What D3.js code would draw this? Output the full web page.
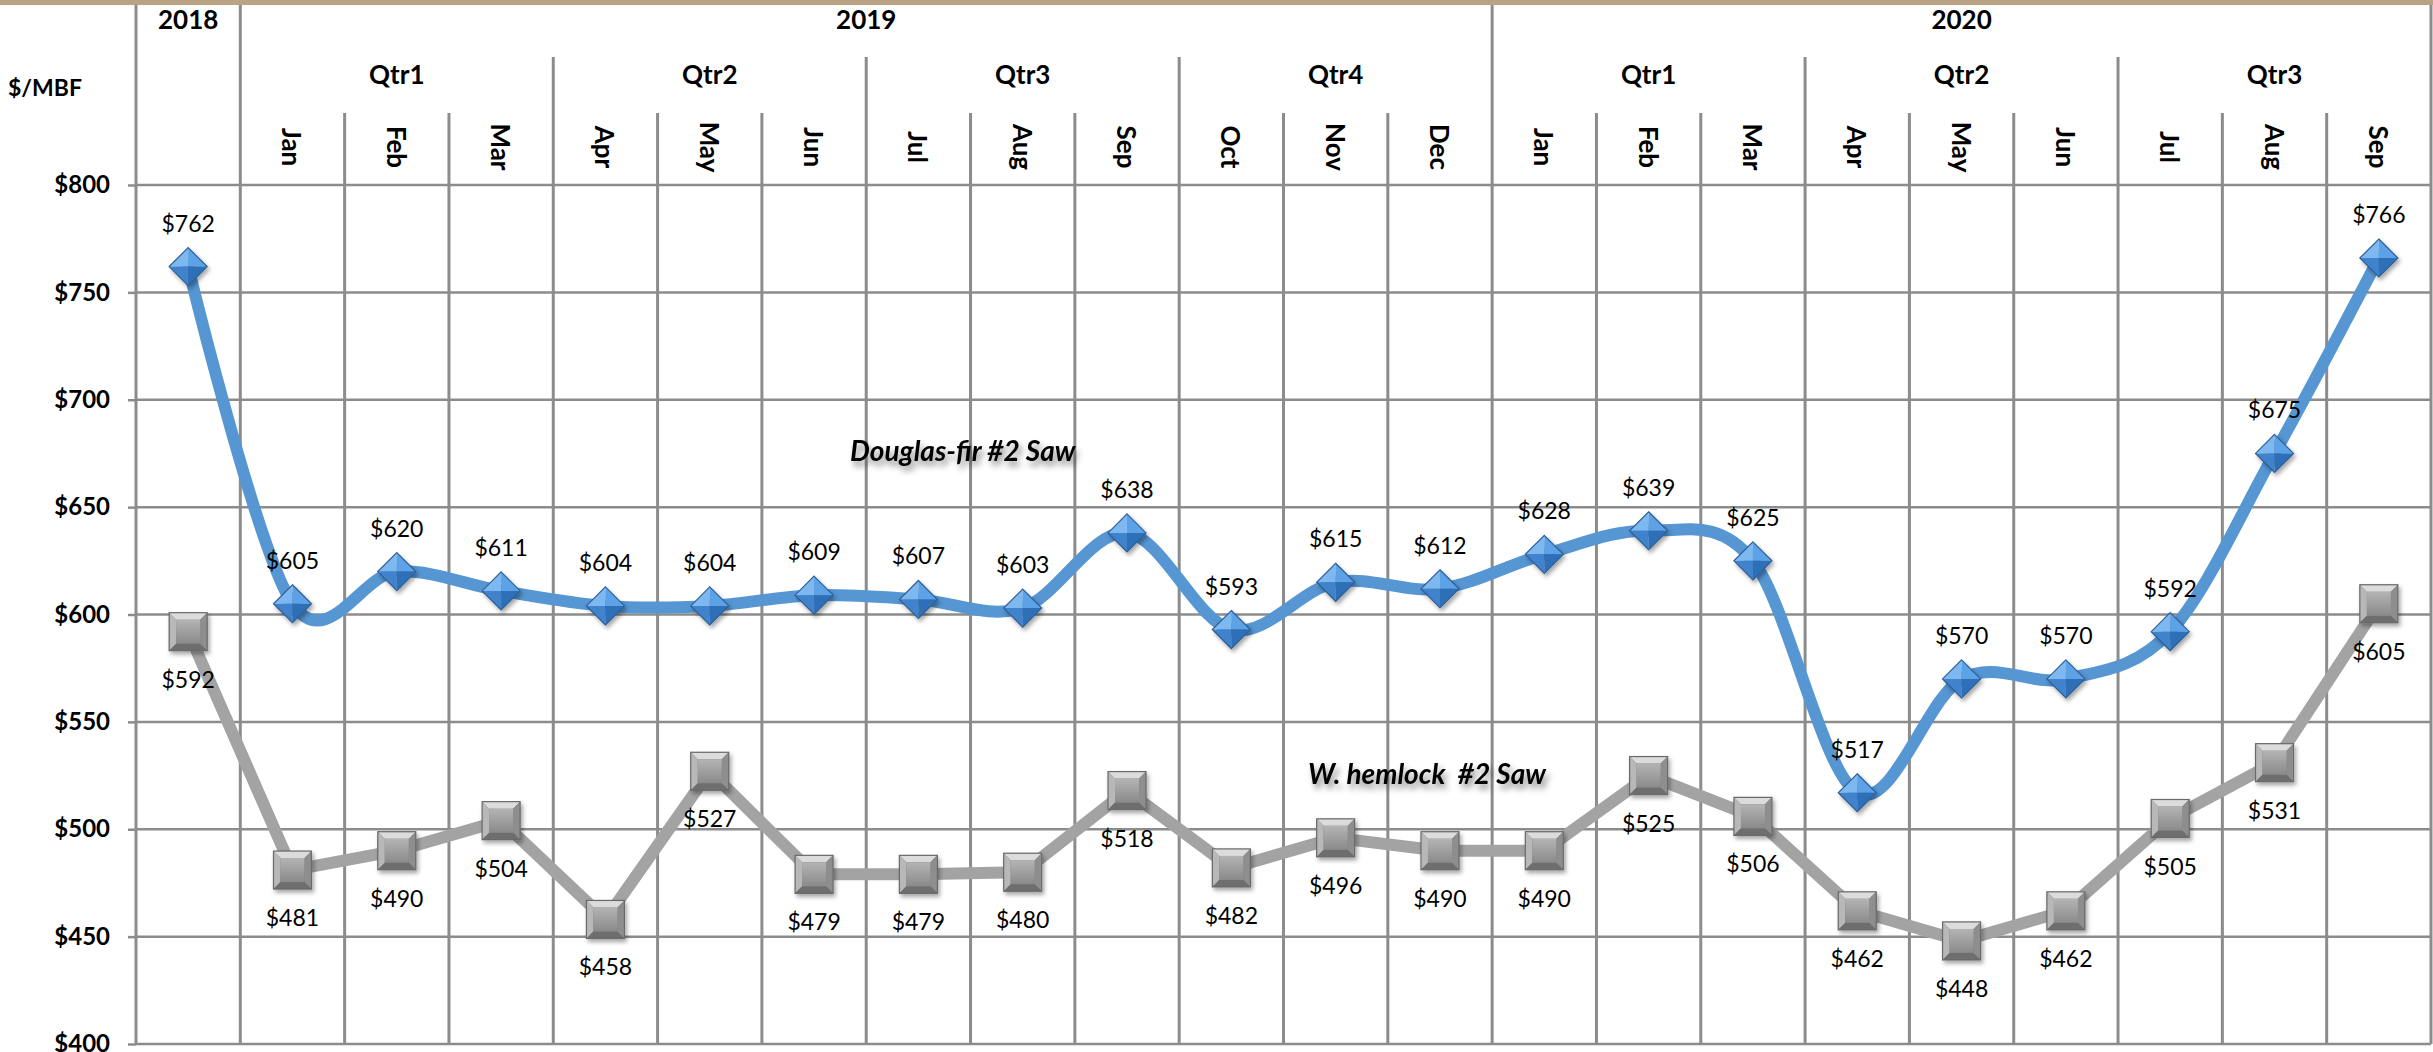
<!DOCTYPE html>
<html>
<head>
<meta charset="utf-8">
<script src="https://cdn.jsdelivr.net/npm/d3@7"></script>
<style>
  html, body { margin: 0; padding: 0; background: #fff; overflow: hidden; }
  svg { display: block; }
  text { font-family: Lato, "Open Sans", sans-serif; }
</style>
</head>
<body>
<svg id="chart" width="2433" height="1052"></svg>
<script>
// ---------- data ----------
const yearOf   = ["2018","2019","2019","2019","2019","2019","2019","2019","2019","2019","2019","2019","2019",
                  "2020","2020","2020","2020","2020","2020","2020","2020","2020"];
const quarterOf = ["","Qtr1","Qtr1","Qtr1","Qtr2","Qtr2","Qtr2","Qtr3","Qtr3","Qtr3","Qtr4","Qtr4","Qtr4",
                  "Qtr1","Qtr1","Qtr1","Qtr2","Qtr2","Qtr2","Qtr3","Qtr3","Qtr3"];
const monthLabels = ["","Jan","Feb","Mar","Apr","May","Jun","Jul","Aug","Sep","Oct","Nov","Dec",
                  "Jan","Feb","Mar","Apr","May","Jun","Jul","Aug","Sep"];
const douglasFir = [762,605,620,611,604,604,609,607,603,638,593,615,612,628,639,625,517,570,570,592,675,766];
const wHemlock   = [592,481,490,504,458,527,479,479,480,518,482,496,490,490,525,506,462,448,462,505,531,605];
const yTicks = [400,450,500,550,600,650,700,750,800];
const seriesNames = ["Douglas-fir #2 Saw", "W. hemlock  #2 Saw"];
const unitLabel = "$/MBF";

(function () {
// ---------- layout ----------
const W = 2433, H = 1052;
const pL = 136, pR = 2431, pT = 185, pB = 1044;
const yearTop = 5, qtrTop = 57, monthTop = 113;
const cats = yearOf.map((yv, i) => yv + "|" + quarterOf[i] + "|" + monthLabels[i]);

const svg = d3.select("#chart");
const x = d3.scaleBand().domain(cats).range([pL, pR]).padding(0);
const y = d3.scaleLinear().domain([400, 800]).range([pB, pT]);
const cx = i => x(cats[i]) + x.bandwidth() / 2;

const defs = svg.append("defs");
const f = defs.append("filter").attr("id", "txtShadow").attr("x", "-10%").attr("y", "-30%").attr("width", "130%").attr("height", "200%");
f.append("feDropShadow").attr("dx", 3).attr("dy", 5).attr("stdDeviation", 3).attr("flood-color", "#000").attr("flood-opacity", 0.45);
const fm = defs.append("filter").attr("id", "mkShadow").attr("x", "-30%").attr("y", "-30%").attr("width", "170%").attr("height", "170%");
fm.append("feDropShadow").attr("dx", 2).attr("dy", 3).attr("stdDeviation", 2).attr("flood-color", "#000").attr("flood-opacity", 0.35);
const gsq = defs.append("linearGradient").attr("id", "sqFace").attr("x1", 0).attr("y1", 0).attr("x2", 0).attr("y2", 1);
gsq.append("stop").attr("offset", 0).attr("stop-color", "#b4b4b4");
gsq.append("stop").attr("offset", 1).attr("stop-color", "#8a8a8a");

// top band
svg.append("rect").attr("x", 0).attr("y", 0).attr("width", W).attr("height", yearTop).attr("fill", "#bba285");

const grid = svg.append("g").attr("stroke", "#8c8c8c");

// horizontal gridlines
grid.selectAll("line.h").data(yTicks).join("line")
  .attr("x1", pL).attr("x2", pR)
  .attr("y1", d => y(d)).attr("y2", d => y(d))
  .attr("stroke-width", 2.5);

// vertical lines at column boundaries
const bounds = d3.range(cats.length + 1).map(i => {
  let t;
  if (i === 0 || i === cats.length || yearOf[i] !== yearOf[i - 1]) t = yearTop;
  else if (quarterOf[i] !== quarterOf[i - 1]) t = qtrTop;
  else t = monthTop;
  const xx = i < cats.length ? x(cats[i]) : pR;
  return { x: xx, t: t };
});
grid.selectAll("line.v").data(bounds).join("line")
  .attr("x1", d => d.x).attr("x2", d => d.x)
  .attr("y1", d => d.t).attr("y2", pB)
  .attr("stroke-width", 3);

// y axis (ticks + labels)
const yAxis = d3.axisLeft(y).tickValues(yTicks).tickFormat(d => "$" + d).tickSize(8).tickPadding(18);
const ya = svg.append("g").attr("transform", `translate(${pL},0)`).call(yAxis);
ya.select(".domain").remove();
ya.selectAll(".tick line").attr("stroke", "#8c8c8c").attr("stroke-width", 2.5);
ya.selectAll(".tick text").attr("font-family", "Lato, sans-serif").attr("font-size", 24)
  .attr("font-weight", "bold").attr("fill", "#000");

// unit label
svg.append("text").attr("x", 8).attr("y", 87).attr("dominant-baseline", "central")
  .attr("font-size", 23).attr("font-weight", "bold").text(unitLabel);

// header groups
function groups(arr, keyFn) {
  const out = [];
  arr.forEach((v, i) => {
    const k = keyFn(i);
    if (out.length && out[out.length - 1].key === k) out[out.length - 1].end = i;
    else out.push({ key: k, label: v, start: i, end: i });
  });
  return out;
}
const yearGroups = groups(yearOf, i => yearOf[i]);
svg.selectAll("text.year").data(yearGroups).join("text")
  .attr("x", d => (x(cats[d.start]) + x(cats[d.end]) + x.bandwidth()) / 2)
  .attr("y", 19).attr("text-anchor", "middle").attr("dominant-baseline", "central")
  .attr("font-size", 26).attr("font-weight", "bold").text(d => d.label);

const qGroups = groups(quarterOf, i => yearOf[i] + quarterOf[i]).filter(d => d.label);
svg.selectAll("text.qtr").data(qGroups).join("text")
  .attr("x", d => (x(cats[d.start]) + x(cats[d.end]) + x.bandwidth()) / 2)
  .attr("y", 74).attr("text-anchor", "middle").attr("dominant-baseline", "central")
  .attr("font-size", 26).attr("font-weight", "bold").text(d => d.label);

svg.selectAll("text.month").data(monthLabels.map((m, i) => ({ m, i })).filter(d => d.m)).join("text")
  .attr("transform", d => `translate(${cx(d.i)},147) rotate(90)`)
  .attr("text-anchor", "middle").attr("dominant-baseline", "central")
  .attr("font-size", 26).attr("font-weight", "bold").text(d => d.m);

// lines
const lineSmooth = d3.line().x((d, i) => cx(i)).y(d => y(d)).curve(d3.curveCatmullRom.alpha(0));
const lineStraight = d3.line().x((d, i) => cx(i)).y(d => y(d));
svg.append("path").datum(wHemlock).attr("d", lineStraight)
  .attr("fill", "none").attr("stroke", "#a3a3a3").attr("stroke-width", 12).attr("stroke-linejoin", "round");
svg.append("path").datum(douglasFir).attr("d", lineSmooth)
  .attr("fill", "none").attr("stroke", "#5596d3").attr("stroke-width", 12).attr("stroke-linecap", "round");

// square markers (hemlock)
const s = 19, inner = 12;
const sq = svg.selectAll("g.sq").data(wHemlock).join("g")
  .attr("transform", (d, i) => `translate(${cx(i)},${y(d)})`).attr("filter", "url(#mkShadow)");
sq.append("rect").attr("x", -s).attr("y", -s).attr("width", 2 * s).attr("height", 2 * s).attr("fill", "#7a7a7a");
sq.append("polygon").attr("points", `${-s},${-s} ${s},${-s} ${inner},${-inner} ${-inner},${-inner}`).attr("fill", "#dcdcdc");
sq.append("polygon").attr("points", `${-s},${-s} ${-inner},${-inner} ${-inner},${inner} ${-s},${s}`).attr("fill", "#b8b8b8");
sq.append("polygon").attr("points", `${s},${-s} ${s},${s} ${inner},${inner} ${inner},${-inner}`).attr("fill", "#8e8e8e");
sq.append("polygon").attr("points", `${-s},${s} ${-inner},${inner} ${inner},${inner} ${s},${s}`).attr("fill", "#6e6e6e");
sq.append("rect").attr("x", -inner).attr("y", -inner).attr("width", 2 * inner).attr("height", 2 * inner).attr("fill", "url(#sqFace)");
sq.append("rect").attr("x", -s).attr("y", -s).attr("width", 2 * s).attr("height", 2 * s)
  .attr("fill", "none").attr("stroke", "#6a6a6a").attr("stroke-width", 1.2);

// diamond markers (Douglas-fir)
const r = 19;
const dm = svg.selectAll("g.dm").data(douglasFir).join("g")
  .attr("transform", (d, i) => `translate(${cx(i)},${y(d)})`).attr("filter", "url(#mkShadow)");
dm.append("polygon").attr("points", `0,${-r} ${-r},0 0,0`).attr("fill", "#7db9f0");
dm.append("polygon").attr("points", `0,${-r} ${r},0 0,0`).attr("fill", "#5da2e6");
dm.append("polygon").attr("points", `${-r},0 0,${r} 0,0`).attr("fill", "#3f83cc");
dm.append("polygon").attr("points", `${r},0 0,${r} 0,0`).attr("fill", "#2f70b8");
dm.append("polygon").attr("points", `0,${-r} ${r},0 0,${r} ${-r},0`)
  .attr("fill", "none").attr("stroke", "#2d5f96").attr("stroke-width", 1.2);

// data labels
svg.selectAll("text.df").data(douglasFir).join("text")
  .attr("x", (d, i) => cx(i)).attr("y", d => y(d) - 44)
  .attr("text-anchor", "middle").attr("dominant-baseline", "central")
  .attr("font-size", 23).attr("fill", "#000").text(d => "$" + d);
svg.selectAll("text.wh").data(wHemlock).join("text")
  .attr("x", (d, i) => cx(i)).attr("y", d => y(d) + 47)
  .attr("text-anchor", "middle").attr("dominant-baseline", "central")
  .attr("font-size", 23).attr("fill", "#000").text(d => "$" + d);

// series names
svg.append("text").attr("x", 850).attr("y", 450).attr("dominant-baseline", "central")
  .attr("font-size", 28).attr("font-weight", "bold").attr("font-style", "italic")
  .attr("filter", "url(#txtShadow)").text(seriesNames[0]);
svg.append("text").attr("x", 1308).attr("y", 773).attr("dominant-baseline", "central")
  .attr("font-size", 28).attr("font-weight", "bold").attr("font-style", "italic")
  .style("white-space", "pre")
  .attr("filter", "url(#txtShadow)").text(seriesNames[1]);
})();
</script>
</body>
</html>
